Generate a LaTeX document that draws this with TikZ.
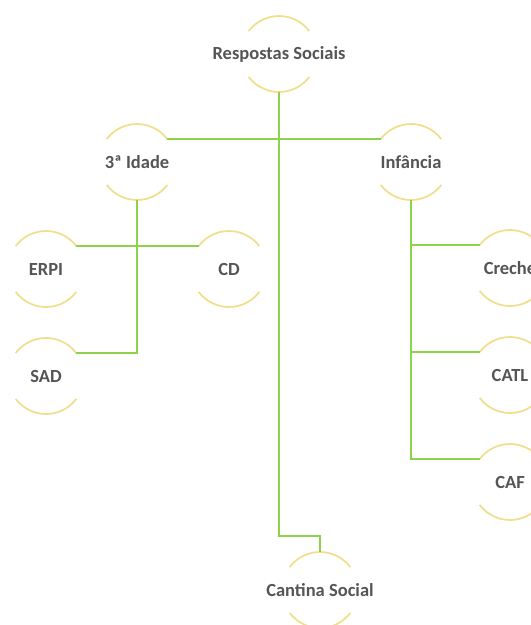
\documentclass[tikz,border=0pt]{standalone}
\usepackage{fontspec}
\setmainfont{Carlito}
\definecolor{linkgreen}{HTML}{8CD24A}
\definecolor{ringyellow}{HTML}{F0DE8A}
\definecolor{txtgray}{HTML}{555555}
\begin{document}
\begin{tikzpicture}[x=1pt,y=-1pt,
  ring/.style={circle,minimum size=76pt,inner sep=0pt,outer sep=0pt,
    label={[lbl]center:#1}},
  lbl/.style={font=\fontsize{18.5}{22}\selectfont\bfseries,text=txtgray,inner sep=0pt},
  arcline/.style={draw=ringyellow,line width=1.7pt},
  link/.style={draw=linkgreen,line width=2.2pt}]
\useasboundingbox[fill=white] (0,0) rectangle (531,625);
\node[ring=Respostas Sociais] (rs) at (279,54) {};
\node[ring=3ª Idade] (idade) at (137,162) {};
\node[ring=Infância] (inf) at (411,162) {};
\node[ring=ERPI] (erpi) at (46,269) {};
\node[ring=CD] (cd) at (229,269) {};
\node[ring=SAD] (sad) at (46,376) {};
\node[ring=Creche] (creche) at (510,268) {};
\node[ring=CATL] (catl) at (510,375) {};
\node[ring=CAF] (caf) at (510,482) {};
\node[ring=Cantina Social] (cant) at (320,590) {};
\foreach \n in {rs,idade,inf,erpi,cd,sad,creche,catl,caf,cant}{
  \draw[arcline] (\n.37) arc[start angle=37,end angle=143,radius=38pt];
  \draw[arcline] (\n.217) arc[start angle=217,end angle=323,radius=38pt];
}
\coordinate (bend) at (279,536);
\draw[link] (rs.south) -- (bend) -| (cant.north);
\draw[link] (idade.37) -- (inf.143);
\draw[link] (erpi.37) -- (cd.143);
\draw[link] (idade.south) |- (sad.37);
\draw[link] (inf.south) |- (caf.143);
\draw[link] (creche.143) -- (creche.143 -| inf.south);
\draw[link] (catl.143) -- (catl.143 -| inf.south);
\end{tikzpicture}
\end{document}
